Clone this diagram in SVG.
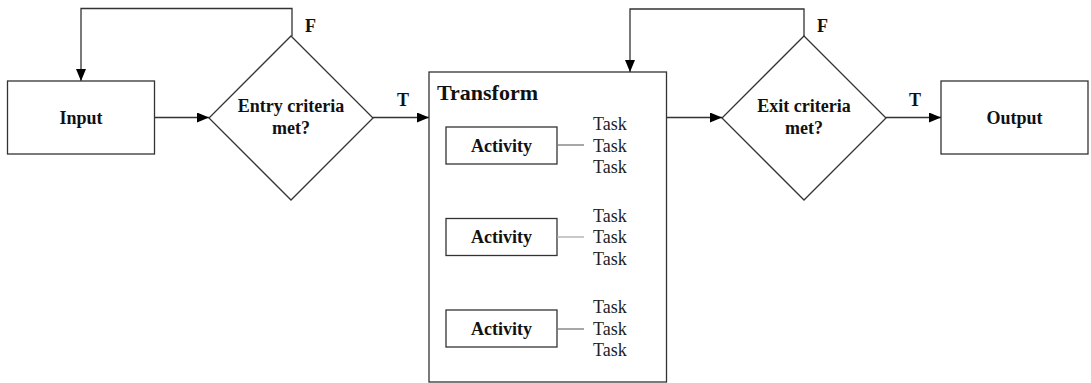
<svg xmlns="http://www.w3.org/2000/svg" width="1091" height="383" viewBox="0 0 1091 383">
<style>
.box{fill:#fff;stroke:#333;stroke-width:1.3}
.ln{fill:none;stroke:#333;stroke-width:1.3}
.lb{font-family:"Liberation Serif","Times New Roman",serif;font-weight:bold;font-size:18px;fill:#111}
.tk{font-family:"Liberation Serif","Times New Roman",serif;font-size:18px;fill:#222}
</style>
<defs>
<marker id="ah" markerWidth="12" markerHeight="10" refX="12" refY="5" orient="auto" markerUnits="userSpaceOnUse">
<path d="M0,0 L12,5 L0,10 Z" fill="#000"/>
</marker>
</defs>
<rect width="1091" height="383" fill="#fff"/>
<g id="connectors">
<path class="ln" d="M154,117.5 H209" marker-end="url(#ah)"/>
<path class="ln" d="M373,117.5 H429" marker-end="url(#ah)"/>
<path class="ln" d="M666,117.5 H722" marker-end="url(#ah)"/>
<path class="ln" d="M886,117.5 H941" marker-end="url(#ah)"/>
<path class="ln" d="M292,36 V8.5 H81 V81" marker-end="url(#ah)"/>
<path class="ln" d="M804,36 V9 H630 V72" marker-end="url(#ah)"/>
<text class="lb" x="305" y="32">F</text>
<text class="lb" x="397" y="106">T</text>
<text class="lb" x="817" y="32">F</text>
<text class="lb" x="909" y="106">T</text>
</g>
<g id="input">
<rect class="box" x="7.5" y="81" width="147" height="73"/>
<text class="lb" x="81" y="123.5" text-anchor="middle">Input</text>
</g>
<g id="entry">
<polygon class="box" points="291,36 373,118 291,200 209,118"/>
<text class="lb" x="291" y="112" text-anchor="middle">Entry criteria</text>
<text class="lb" x="291" y="134" text-anchor="middle">met?</text>
</g>
<g id="transform">
<rect class="box" x="429" y="72" width="237.5" height="310"/>
<text class="lb" x="437" y="100" style="font-size:22px">Transform</text>
</g>
<g id="activity1">
<rect class="box" x="446" y="127" width="111" height="37"/>
<text class="lb" x="501.5" y="151.5" text-anchor="middle">Activity</text>
<line class="ln" x1="557" y1="145" x2="584" y2="145" style="stroke:#777"/>
<text class="tk" x="593" y="130">Task</text>
<text class="tk" x="593" y="151.5">Task</text>
<text class="tk" x="593" y="173">Task</text>
</g>
<g id="activity2">
<rect class="box" x="446" y="218.5" width="111" height="37"/>
<text class="lb" x="501.5" y="243" text-anchor="middle">Activity</text>
<line class="ln" x1="557" y1="237" x2="584" y2="237" style="stroke:#aaa"/>
<text class="tk" x="593" y="221.5">Task</text>
<text class="tk" x="593" y="243">Task</text>
<text class="tk" x="593" y="264.5">Task</text>
</g>
<g id="activity3">
<rect class="box" x="446" y="310" width="111" height="37"/>
<text class="lb" x="501.5" y="334.5" text-anchor="middle">Activity</text>
<line class="ln" x1="557" y1="329" x2="584" y2="329" style="stroke:#777"/>
<text class="tk" x="593" y="313">Task</text>
<text class="tk" x="593" y="334.5">Task</text>
<text class="tk" x="593" y="356">Task</text>
</g>
<g id="exit">
<polygon class="box" points="804,36 886,118 804,200 722,118"/>
<text class="lb" x="804" y="112" text-anchor="middle">Exit criteria</text>
<text class="lb" x="804" y="134" text-anchor="middle">met?</text>
</g>
<g id="output">
<rect class="box" x="941" y="81" width="147" height="73"/>
<text class="lb" x="1014.5" y="123.5" text-anchor="middle">Output</text>
</g>
</svg>
